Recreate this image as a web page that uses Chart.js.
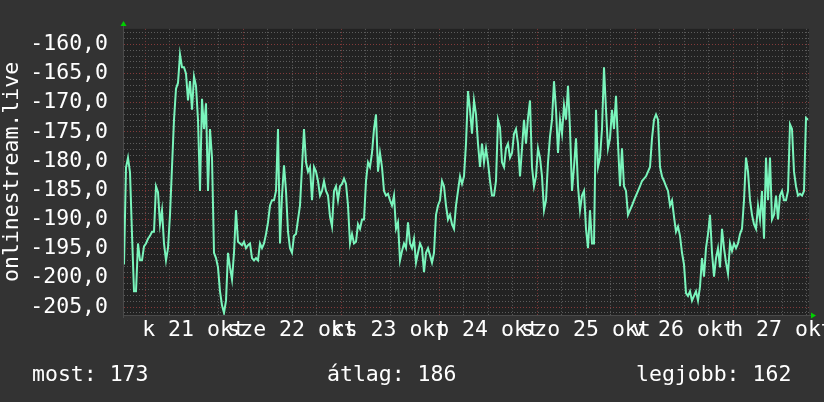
<!DOCTYPE html>
<html><head><meta charset="utf-8">
<script src="https://cdn.jsdelivr.net/npm/chart.js@4/dist/chart.umd.min.js"></script>
<style>
html,body{margin:0;padding:0;background:#333333;}
#wrap{position:relative;width:824px;height:402px;overflow:hidden;}
canvas{position:absolute;left:0;top:0;}
.lg{position:absolute;top:362px;font-family:"DejaVu Sans Mono",monospace;font-size:21.5px;line-height:24px;color:#ffffff;white-space:pre;}
</style></head><body>
<div id="wrap"><canvas id="c" width="824" height="402"></canvas>
<div class="lg" id="lg0" style="left:32px"></div>
<div class="lg" id="lg1" style="left:327px"></div>
<div class="lg" id="lg2" style="left:636px"></div>
</div>
<script>
// ---- data ----
const xLabels = ['k 21 okt','sze 22 okt','cs 23 okt','p 24 okt','szo 25 okt','v 26 okt','h 27 okt'];
const yLabelValues = [-160,-165,-170,-175,-180,-185,-190,-195,-200,-205];
const yLabels = ['-160,0','-165,0','-170,0','-175,0','-180,0','-185,0','-190,0','-195,0','-200,0','-205,0'];
const legendLabels = ['most: 173','átlag: 186','legjobb: 162'];
const axisTitle = 'onlinestream.live';
const latency = [
-197.7,-181.1,-179.4,-181.9,-192.5,-202.3,-202.3,-194.1,-197.0,-197.0,
-194.6,-194.1,-193.3,-192.8,-192.1,-192.1,-184.3,-185.3,-190.8,-188.4,
-194.1,-197.0,-194.9,-189.2,-181.0,-172.9,-167.6,-166.6,-161.7,-163.9,
-163.9,-165.0,-169.6,-166.3,-171.2,-165.5,-167.1,-172.9,-185.1,-169.3,
-174.5,-170.1,-185.1,-174.5,-179.4,-195.7,-196.6,-198.2,-202.3,-204.7,
-206.0,-203.9,-195.7,-198.2,-200.3,-195.7,-188.4,-193.8,-194.1,-194.4,
-193.8,-194.9,-194.4,-194.1,-196.6,-197.0,-196.6,-197.0,-194.1,-194.9,
-194.1,-192.5,-190.5,-187.6,-186.7,-186.7,-185.1,-174.5,-194.1,-185.9,
-180.7,-185.1,-192.1,-194.9,-195.7,-192.8,-192.5,-190.0,-187.6,-181.0,
-174.5,-180.2,-181.8,-181.0,-186.7,-181.0,-181.8,-183.4,-185.9,-185.1,
-183.4,-185.1,-185.9,-189.5,-191.2,-185.1,-184.3,-186.7,-184.3,-183.9,
-183.0,-183.9,-187.6,-194.1,-192.5,-194.1,-193.8,-190.8,-191.6,-190.0,
-190.0,-183.4,-180.2,-181.0,-178.6,-174.5,-172.0,-181.8,-178.6,-181.0,
-185.1,-185.9,-185.6,-186.7,-187.6,-185.9,-191.6,-190.5,-197.0,-195.4,
-194.1,-194.9,-190.5,-194.1,-194.9,-193.3,-197.4,-195.7,-194.1,-194.9,
-199.0,-195.7,-194.9,-196.1,-197.4,-195.7,-189.2,-187.6,-186.7,-183.4,
-184.3,-187.6,-190.0,-189.2,-190.8,-191.6,-187.6,-185.1,-182.6,-183.9,
-182.6,-177.0,-168.0,-171.2,-175.3,-169.6,-172.0,-177.0,-181.0,-177.0,
-180.2,-177.8,-180.2,-183.4,-185.9,-185.9,-183.4,-172.9,-174.2,-180.2,
-181.0,-177.8,-177.0,-179.4,-178.6,-175.3,-174.5,-177.0,-182.6,-177.8,
-172.9,-177.0,-172.6,-169.6,-181.0,-184.3,-182.6,-177.8,-179.4,-182.6,
-188.4,-186.7,-180.2,-175.8,-172.9,-166.3,-171.2,-178.6,-172.9,-175.3,
-170.4,-172.9,-167.1,-174.5,-185.1,-181.0,-176.1,-184.3,-188.4,-185.9,
-185.1,-191.6,-194.9,-188.4,-194.1,-194.1,-171.2,-181.0,-179.4,-174.5,
-163.9,-171.2,-177.8,-176.1,-171.2,-174.5,-168.8,-177.0,-184.3,-177.8,
-184.3,-185.1,-189.2,-188.4,-187.6,-186.7,-185.9,-185.1,-184.3,-183.4,
-183.0,-182.6,-181.8,-181.0,-176.1,-172.9,-172.0,-172.9,-181.0,-182.6,
-183.4,-184.3,-185.1,-187.6,-186.7,-189.5,-192.1,-191.2,-192.8,-195.7,
-197.7,-202.6,-203.1,-202.3,-203.9,-203.1,-202.3,-203.9,-201.5,-196.6,
-199.8,-194.9,-192.5,-189.2,-195.7,-199.8,-196.6,-194.9,-198.2,-191.6,
-194.9,-197.4,-199.3,-194.1,-195.4,-194.1,-194.9,-194.1,-192.5,-191.6,
-186.7,-179.4,-181.8,-186.7,-189.2,-190.8,-191.6,-187.6,-190.0,-185.1,
-193.3,-179.4,-186.7,-179.4,-190.0,-189.2,-185.9,-190.0,-185.9,-185.1,
-186.7,-186.7,-185.1,-173.7,-174.5,-181.8,-184.3,-185.9,-185.6,-185.9,
-185.1,-172.6,-172.9
];

// ---- scale constants ----
const X_MAX = 342.5;          // samples visible across the plot
const SAMPLES_PER_DAY = 49;
const FIRST_MIDNIGHT = 59.5;
const FIRST_LABEL = 35;       // noon of the first labelled day
const Y_MIN = -206.36, Y_MAX = -157.34;

const MONO = '"DejaVu Sans Mono", monospace';
const FS = 21.5;
const GRID = '#5c5c5c', MGRID = '#823a3a';

document.getElementById('lg0').textContent = legendLabels[0];
document.getElementById('lg1').textContent = legendLabels[1];
document.getElementById('lg2').textContent = legendLabels[2];

const points = latency.map((v, i) => ({x: i, y: v}));

const bgPlugin = {
  id: 'bg',
  beforeDraw(chart) {
    const {ctx, chartArea: a} = chart;
    ctx.save();
    ctx.fillStyle = '#333333';
    ctx.fillRect(0, 0, chart.width, chart.height);
    ctx.fillStyle = '#222222';
    ctx.fillRect(a.left, a.top, a.right - a.left, a.bottom - a.top);
    ctx.restore();
  },
  afterDraw(chart) {
    const {ctx, chartArea: a} = chart;
    ctx.save();
    ctx.strokeStyle = '#4a4a4a';
    ctx.lineWidth = 1;
    ctx.beginPath();
    ctx.moveTo(a.left - 0.5, a.bottom + 0.5); ctx.lineTo(a.right + 3, a.bottom + 0.5);
    ctx.moveTo(a.left - 0.5, a.top - 3); ctx.lineTo(a.left - 0.5, a.bottom + 3);
    ctx.stroke();
    ctx.fillStyle = '#00d000';
    ctx.beginPath();
    ctx.moveTo(a.left - 3.5, a.top - 3); ctx.lineTo(a.left + 2.5, a.top - 3); ctx.lineTo(a.left - 0.5, a.top - 8);
    ctx.closePath(); ctx.fill();
    ctx.beginPath();
    ctx.moveTo(a.right + 2, a.bottom - 2.5); ctx.lineTo(a.right + 2, a.bottom + 3.5); ctx.lineTo(a.right + 7, a.bottom + 0.5);
    ctx.closePath(); ctx.fill();
    ctx.restore();
  }
};

new Chart(document.getElementById('c'), {
  type: 'line',
  data: { datasets: [{
    data: points,
    borderColor: '#7af5bc',
    borderWidth: 2,
    pointRadius: 0,
    tension: 0,
    fill: false
  }]},
  options: {
    responsive: false,
    animation: false,
    events: [],
    layout: { padding: { left: 0, right: 15, top: 15, bottom: 0 } },
    plugins: { legend: { display: false }, tooltip: { enabled: false } },
    scales: {
      x: {
        type: 'linear', position: 'bottom', min: 0, max: X_MAX,
        afterBuildTicks(s) {
          const q = SAMPLES_PER_DAY / 4, t = [];
          for (let v = FIRST_MIDNIGHT - 4 * q; v <= X_MAX; v += q) if (v >= 0) t.push({value: v});
          s.ticks = t;
        },
        afterFit(s) { s.height = 0; s.paddingLeft = 0; s.paddingRight = 0; },
        ticks: { display: false },
        grid: {
          drawTicks: false,
          color: c => {
            const d = (c.tick.value - FIRST_MIDNIGHT) / SAMPLES_PER_DAY;
            return Math.abs(d - Math.round(d)) < 1e-6 ? MGRID : GRID;
          }
        },
        border: { display: false, dash: [1, 2] }
      },
      xl: {
        type: 'linear', position: 'bottom', min: 0, max: X_MAX,
        afterBuildTicks(s) { s.ticks = xLabels.map((_, k) => ({value: FIRST_LABEL + k * SAMPLES_PER_DAY})); },
        afterFit(s) { s.height = 87; s.paddingLeft = 0; s.paddingRight = 0; },
        grid: { display: false, drawTicks: false },
        border: { display: false },
        ticks: {
          autoSkip: false, maxRotation: 0, minRotation: 0, padding: 3,
          color: '#ffffff', font: { family: MONO, size: FS, lineHeight: 1.2 },
          callback: (v, i) => xLabels[i]
        }
      },
      y: {
        type: 'linear', min: Y_MIN, max: Y_MAX,
        afterBuildTicks(s) {
          const t = [];
          for (let v = Math.ceil(Y_MIN); v <= Math.floor(Y_MAX); v++) t.push({value: v});
          s.ticks = t;
        },
        afterFit(s) { s.width = 124; },
        ticks: {
          autoSkip: false, padding: 16, color: '#ffffff',
          font: { family: MONO, size: FS },
          callback: v => { const k = yLabelValues.indexOf(v); return k >= 0 ? yLabels[k] : ''; }
        },
        grid: {
          drawTicks: false,
          color: c => (yLabelValues.indexOf(c.tick.value) >= 0 ? MGRID : GRID)
        },
        border: { display: false, dash: [1, 2] },
        title: {
          display: true, text: axisTitle, color: '#ffffff',
          font: { family: MONO, size: FS, lineHeight: 1.12 },
          padding: { top: 0, bottom: 0 }
        }
      }
    }
  },
  plugins: [bgPlugin]
});
</script>
</body></html>
